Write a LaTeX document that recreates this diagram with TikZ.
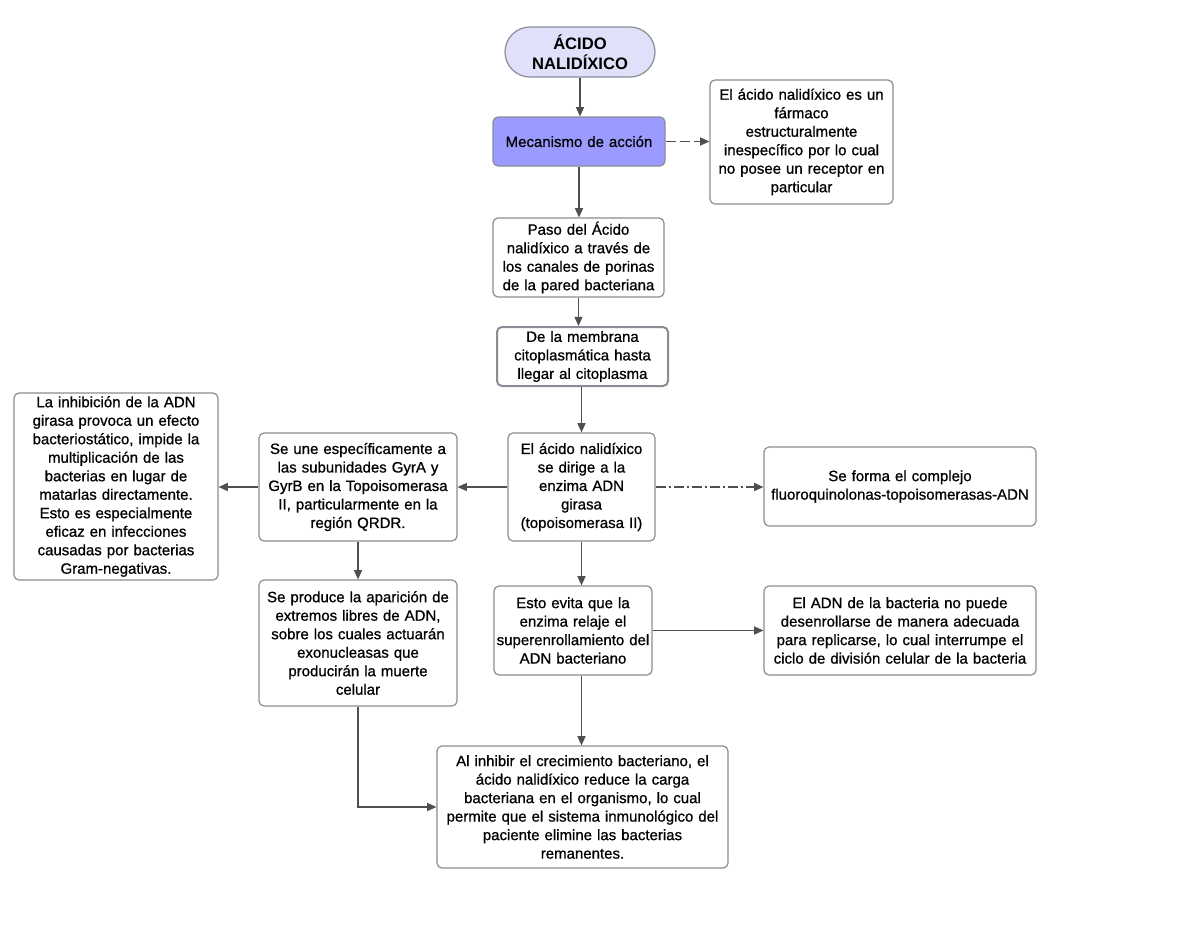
\documentclass[tikz,border=0pt]{standalone}
\usepackage{fontspec}
\setmainfont{Liberation Sans}
\newfontfamily\heavyfont[FakeBold=0.8]{Liberation Sans}
\usetikzlibrary{arrows.meta,positioning}
\definecolor{bordergray}{HTML}{8A8D96}
\definecolor{linegray}{HTML}{4F4F4F}
\definecolor{titlefill}{HTML}{E0E0FA}
\definecolor{mecfill}{HTML}{9A9AFF}
\newcommand\bodyfont{\heavyfont\fontsize{7.5pt}{9.25pt}\selectfont}
\newcommand\titlefont{\fontsize{8.3pt}{10pt}\selectfont\bfseries}
\tikzset{
  box/.style={draw=bordergray, line width=0.6pt, rounded corners=2.5pt, fill=white,
    align=center, inner sep=0pt, font=\bodyfont, text=black},
  conn/.style={draw=linegray, line width=0.6pt, -{Triangle[width=4pt,length=4.6pt]}},
}
\begin{document}
\begin{tikzpicture}[x=0.5pt,y=-0.5pt]
\useasboundingbox[fill=white] (0,0) rectangle (1200,927);

\node[box, fill=titlefill, rounded corners=12.5pt, text width=75pt, minimum height=25pt, font=\titlefont] (title) at (580,52) {ÁCIDO\\NALIDÍXICO};
\node[box, fill=mecfill, text width=86pt, minimum height=24.5pt] (mec) at (579,141.5) {Mecanismo de acción};
\node[box, text width=91.5pt, minimum height=62pt] (rec) at (801.5,142) {El ácido nalidíxico es un\\fármaco\\estructuralmente\\inespecífico por lo cual\\no posee un receptor en\\particular};
\node[box, text width=85.5pt, minimum height=39.5pt] (paso) at (578.5,257.5) {Paso del Ácido\\nalidíxico a través de\\los canales de porinas\\de la pared bacteriana};
\node[box, line width=1pt, text width=85.5pt, minimum height=29.5pt] (memb) at (582.5,356.5) {De la membrana\\citoplasmática hasta\\llegar al citoplasma};
\node[box, text width=73.5pt, minimum height=54pt] (dir) at (581.5,487) {El ácido nalidíxico\\se dirige a la\\enzima ADN\\girasa\\(topoisomerasa II)};
\node[box, text width=99pt, minimum height=54pt] (une) at (358,487) {Se une específicamente a\\las subunidades GyrA y\\GyrB en la Topoisomerasa\\II, particularmente en la\\región QRDR.};
\node[box, text width=102pt, minimum height=93.5pt] (inh) at (116,486.5) {La inhibición de la ADN\\girasa provoca un efecto\\bacteriostático, impide la\\multiplicación de las\\bacterias en lugar de\\matarlas directamente.\\Esto es especialmente\\eficaz en infecciones\\causadas por bacterias\\Gram-negativas.};
\node[box, text width=136pt, minimum height=39.5pt] (comp) at (900,486.5) {Se forma el complejo\\fluoroquinolonas-topoisomerasas-ADN};
\node[box, text width=79pt, minimum height=44.5pt] (evita) at (573,630.5) {Esto evita que la\\enzima relaje el\\superenrollamiento del\\ADN bacteriano};
\node[box, text width=136pt, minimum height=44.5pt] (adn) at (900,630.5) {El ADN de la bacteria no puede\\desenrollarse de manera adecuada\\para replicarse, lo cual interrumpe el\\ciclo de división celular de la bacteria};
\node[box, text width=99pt, minimum height=63pt] (prod) at (358,643) {Se produce la aparición de\\extremos libres de ADN,\\sobre los cuales actuarán\\exonucleasas que\\producirán la muerte\\celular};
\node[box, text width=145.5pt, minimum height=61pt] (alinh) at (582.5,807) {Al inhibir el crecimiento bacteriano, el\\ácido nalidíxico reduce la carga\\bacteriana en el organismo, lo cual\\permite que el sistema inmunológico del\\paciente elimine las bacterias\\remanentes.};

\draw[conn] (title.south) -- (title.south |- mec.north);
\draw[conn, dash pattern=on 5pt off 2pt] (mec.east) -- (mec.east -| rec.west);
\draw[conn] (mec.south) -- (mec.south |- paso.north);
\draw[conn] (paso.south) -- (paso.south |- memb.north);
\draw[conn] (memb.south -| dir.north) -- (dir.north);
\draw[conn] (dir.west) -- (dir.west -| une.east);
\draw[conn] (une.west) -- (une.west -| inh.east);
\draw[conn, dash pattern=on 5pt off 1.5pt on 1pt off 1.5pt] (dir.east) -- (dir.east -| comp.west);
\draw[conn] (dir.south) -- (dir.south |- evita.north);
\draw[conn] (evita.east) -- (evita.east -| adn.west);
\draw[conn] (une.south) -- (une.south |- prod.north);
\draw[conn] (evita.south -| dir.south) -- (alinh.north -| dir.south);
\draw[conn] (prod.south) -- (prod.south |- alinh.west) -- (alinh.west);
\end{tikzpicture}
\end{document}
